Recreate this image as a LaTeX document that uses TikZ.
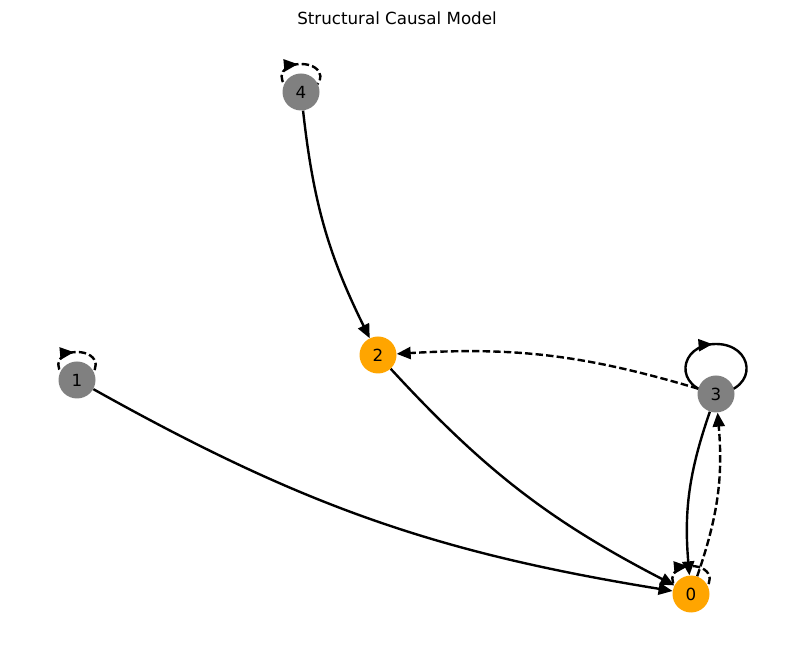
\documentclass[tikz,border=0pt]{standalone}
\usepackage{fontspec}
\setmainfont{DejaVu Sans}
\usetikzlibrary{arrows.meta,decorations.markings,backgrounds,calc}
\definecolor{mplorange}{HTML}{FFA500}
\definecolor{mplgray}{HTML}{808080}
\newcommand{\sloop}[4]{%
  \draw[#4] (#1.center) .. controls ($(#1.center)+(-#2,5)$) and ($(#1.center)+(-0.85*#2,#3)$) .. ($(#1.center)+(0,#3)$)
    .. controls ($(#1.center)+(0.85*#2,#3)$) and ($(#1.center)+(#2,5)$) .. (#1.center);}
\begin{document}
\begin{tikzpicture}[x=1pt,y=1pt,
  vtx/.style={circle,minimum size=37pt,inner sep=0pt,font=\fontsize{16.7}{20}\selectfont},
  gnode/.style={vtx,fill=mplgray},
  onode/.style={vtx,fill=mplorange},
  edge/.style={line width=2.4pt,-{Triangle[length=14pt,width=12pt]}},
  dsh/.style={dash pattern=on 7.4pt off 3.2pt},
  loopline/.style={line width=2.4pt,postaction={decorate},
    decoration={markings,mark=at position #1 with {\arrow{Triangle[length=14pt,width=12pt]}}}}
]
\useasboundingbox (0,0) rectangle (794,658);
\node[onode] (n0) at (691,64) {0};
\node[gnode] (n1) at (77,278) {1};
\node[onode] (n2) at (378,303) {2};
\node[gnode] (n3) at (716,264) {3};
\node[gnode] (n4) at (301,566) {4};
\node[font=\fontsize{16.7}{20}\selectfont] (title) at (397,640) {Structural Causal Model};
\begin{scope}[on background layer]
\draw[edge] (n4) to[bend right=10] (n2);
\draw[edge] (n1) to[bend right=10] (n0);
\draw[edge] (n2) to[bend right=10] (n0);
\draw[edge,dsh] (n3) to[bend right=10] (n2);
\draw[edge] (n3) to[bend right=12] (n0);
\draw[edge,dsh] (n0) to[bend right=12] (n3);
\sloop{n4}{28}{28}{loopline=0.47,dsh}
\sloop{n1}{27}{28}{loopline=0.47,dsh}
\sloop{n0}{27}{28}{loopline=0.47,dsh}
\sloop{n3}{44}{50}{loopline=0.48}
\end{scope}
\end{tikzpicture}
\end{document}
